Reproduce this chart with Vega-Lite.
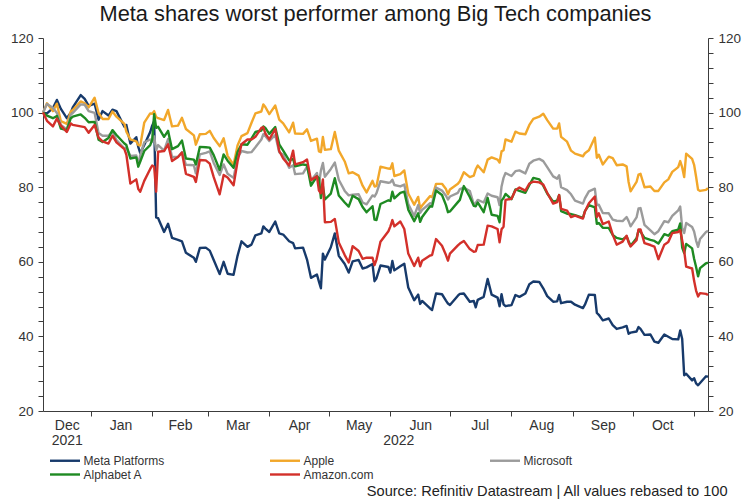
{
  "$schema": "https://vega.github.io/schema/vega-lite/v6.json",
  "description": "Meta vs Big Tech, rebased to 100",
  "width": 665,
  "height": 373,
  "autosize": {"type": "none"},
  "padding": {"left": 43, "top": 38, "right": 42, "bottom": 89},
  "background": "white",
  "config": {
    "font": "Liberation Sans",
    "view": {"stroke": null},
    "axis": {
      "grid": false,
      "domainColor": "#3c3c3c",
      "tickColor": "#3c3c3c",
      "labelColor": "#333333",
      "labelFontSize": 13.5,
      "labelFont": "Liberation Sans",
      "titleFont": "Liberation Sans"
    }
  },
  "title": {
    "text": "Meta shares worst performer among Big Tech companies",
    "fontSize": 21.8,
    "fontWeight": "normal",
    "color": "#1a1a1a",
    "anchor": "middle",
    "offset": 5
  },
  "data": {
    "values": [
      {"date": "2021-12-08", "Meta Platforms": 100, "Apple": 100, "Microsoft": 100, "Alphabet A": 100, "Amazon.com": 100},
      {"date": "2021-12-10", "Meta Platforms": 99.8, "Apple": 102.5, "Microsoft": 102.3, "Alphabet A": 99.2, "Amazon.com": 97.8},
      {"date": "2021-12-13", "Meta Platforms": 101.2, "Apple": 100.4, "Microsoft": 101.3, "Alphabet A": 98.5, "Amazon.com": 96.3},
      {"date": "2021-12-15", "Meta Platforms": 103.4, "Apple": 102.4, "Microsoft": 99.9, "Alphabet A": 99.1, "Amazon.com": 98.4},
      {"date": "2021-12-17", "Meta Platforms": 101.0, "Apple": 97.7, "Microsoft": 96.7, "Alphabet A": 95.7, "Amazon.com": 96.5},
      {"date": "2021-12-20", "Meta Platforms": 98.5, "Apple": 97.0, "Microsoft": 95.5, "Alphabet A": 95.3, "Amazon.com": 94.8},
      {"date": "2021-12-22", "Meta Platforms": 100.0, "Apple": 100.3, "Microsoft": 99.5, "Alphabet A": 98.5, "Amazon.com": 97.1},
      {"date": "2021-12-23", "Meta Platforms": 101.4, "Apple": 100.7, "Microsoft": 99.9, "Alphabet A": 98.9, "Amazon.com": 96.7},
      {"date": "2021-12-27", "Meta Platforms": 104.7, "Apple": 103.0, "Microsoft": 102.2, "Alphabet A": 99.5, "Amazon.com": 96.3},
      {"date": "2021-12-29", "Meta Platforms": 103.7, "Apple": 102.5, "Microsoft": 102.1, "Alphabet A": 98.6, "Amazon.com": 96.1},
      {"date": "2021-12-31", "Meta Platforms": 101.8, "Apple": 101.4, "Microsoft": 100.4, "Alphabet A": 97.4, "Amazon.com": 94.6},
      {"date": "2022-01-03", "Meta Platforms": 102.4, "Apple": 104.0, "Microsoft": 99.9, "Alphabet A": 97.5, "Amazon.com": 96.7},
      {"date": "2022-01-05", "Meta Platforms": 98.1, "Apple": 99.9, "Microsoft": 94.5, "Alphabet A": 92.7, "Amazon.com": 93.3},
      {"date": "2022-01-07", "Meta Platforms": 100.4, "Apple": 98.3, "Microsoft": 93.8, "Alphabet A": 92.1, "Amazon.com": 92.3},
      {"date": "2022-01-10", "Meta Platforms": 99.2, "Apple": 98.3, "Microsoft": 93.8, "Alphabet A": 93.2, "Amazon.com": 91.7},
      {"date": "2022-01-12", "Meta Platforms": 100.8, "Apple": 100.3, "Microsoft": 95.0, "Alphabet A": 95.3, "Amazon.com": 93.8},
      {"date": "2022-01-14", "Meta Platforms": 100.4, "Apple": 98.9, "Microsoft": 92.6, "Alphabet A": 94.0, "Amazon.com": 92.0},
      {"date": "2022-01-18", "Meta Platforms": 96.2, "Apple": 97.0, "Microsoft": 90.4, "Alphabet A": 91.7, "Amazon.com": 90.2},
      {"date": "2022-01-19", "Meta Platforms": 96.7, "Apple": 94.9, "Microsoft": 90.6, "Alphabet A": 91.3, "Amazon.com": 88.7},
      {"date": "2022-01-21", "Meta Platforms": 91.7, "Apple": 92.8, "Microsoft": 88.4, "Alphabet A": 87.7, "Amazon.com": 81.0},
      {"date": "2022-01-24", "Meta Platforms": 93.4, "Apple": 92.3, "Microsoft": 88.5, "Alphabet A": 88.0, "Amazon.com": 82.1},
      {"date": "2022-01-25", "Meta Platforms": 90.8, "Apple": 91.3, "Microsoft": 86.1, "Alphabet A": 85.5, "Amazon.com": 79.5},
      {"date": "2022-01-26", "Meta Platforms": 89.1, "Apple": 91.2, "Microsoft": 88.6, "Alphabet A": 86.9, "Amazon.com": 78.8},
      {"date": "2022-01-28", "Meta Platforms": 91.3, "Apple": 97.3, "Microsoft": 92.0, "Alphabet A": 89.7, "Amazon.com": 81.7},
      {"date": "2022-01-31", "Meta Platforms": 94.8, "Apple": 99.8, "Microsoft": 92.8, "Alphabet A": 91.3, "Amazon.com": 84.9},
      {"date": "2022-02-01", "Meta Platforms": 96.5, "Apple": 99.7, "Microsoft": 92.2, "Alphabet A": 92.7, "Amazon.com": 85.8},
      {"date": "2022-02-02", "Meta Platforms": 97.7, "Apple": 100.4, "Microsoft": 93.6, "Alphabet A": 99.6, "Amazon.com": 85.5},
      {"date": "2022-02-03", "Meta Platforms": 71.9, "Apple": 98.8, "Microsoft": 89.9, "Alphabet A": 95.9, "Amazon.com": 78.8},
      {"date": "2022-02-04", "Meta Platforms": 71.7, "Apple": 98.5, "Microsoft": 91.3, "Alphabet A": 96.2, "Amazon.com": 89.5},
      {"date": "2022-02-07", "Meta Platforms": 68.0, "Apple": 98.0, "Microsoft": 89.8, "Alphabet A": 93.5, "Amazon.com": 89.7},
      {"date": "2022-02-09", "Meta Platforms": 70.2, "Apple": 100.7, "Microsoft": 92.9, "Alphabet A": 95.1, "Amazon.com": 91.5},
      {"date": "2022-02-11", "Meta Platforms": 66.4, "Apple": 96.3, "Microsoft": 88.1, "Alphabet A": 90.2, "Amazon.com": 87.0},
      {"date": "2022-02-14", "Meta Platforms": 65.9, "Apple": 96.5, "Microsoft": 88.1, "Alphabet A": 91.0, "Amazon.com": 88.1},
      {"date": "2022-02-16", "Meta Platforms": 65.5, "Apple": 98.6, "Microsoft": 89.4, "Alphabet A": 92.5, "Amazon.com": 89.3},
      {"date": "2022-02-18", "Meta Platforms": 62.4, "Apple": 95.6, "Microsoft": 86.0, "Alphabet A": 87.7, "Amazon.com": 83.6},
      {"date": "2022-02-22", "Meta Platforms": 61.1, "Apple": 93.9, "Microsoft": 85.9, "Alphabet A": 87.4, "Amazon.com": 82.8},
      {"date": "2022-02-23", "Meta Platforms": 60.0, "Apple": 91.4, "Microsoft": 83.7, "Alphabet A": 86.1, "Amazon.com": 81.4},
      {"date": "2022-02-25", "Meta Platforms": 63.7, "Apple": 94.2, "Microsoft": 88.8, "Alphabet A": 90.8, "Amazon.com": 87.3},
      {"date": "2022-02-28", "Meta Platforms": 63.8, "Apple": 94.3, "Microsoft": 89.2, "Alphabet A": 90.7, "Amazon.com": 87.2},
      {"date": "2022-03-02", "Meta Platforms": 63.0, "Apple": 95.1, "Microsoft": 89.6, "Alphabet A": 90.6, "Amazon.com": 86.3},
      {"date": "2022-03-04", "Meta Platforms": 60.5, "Apple": 93.2, "Microsoft": 86.5, "Alphabet A": 88.6, "Amazon.com": 82.7},
      {"date": "2022-03-07", "Meta Platforms": 56.7, "Apple": 91.0, "Microsoft": 83.3, "Alphabet A": 84.6, "Amazon.com": 78.1},
      {"date": "2022-03-09", "Meta Platforms": 60.0, "Apple": 93.1, "Microsoft": 86.1, "Alphabet A": 88.8, "Amazon.com": 83.3},
      {"date": "2022-03-11", "Meta Platforms": 56.8, "Apple": 88.4, "Microsoft": 83.6, "Alphabet A": 87.1, "Amazon.com": 82.6},
      {"date": "2022-03-14", "Meta Platforms": 56.5, "Apple": 86.0, "Microsoft": 82.5, "Alphabet A": 85.2, "Amazon.com": 80.5},
      {"date": "2022-03-16", "Meta Platforms": 61.6, "Apple": 91.2, "Microsoft": 87.9, "Alphabet A": 89.4, "Amazon.com": 86.9},
      {"date": "2022-03-18", "Meta Platforms": 65.5, "Apple": 93.7, "Microsoft": 89.7, "Alphabet A": 91.5, "Amazon.com": 91.5},
      {"date": "2022-03-21", "Meta Platforms": 64.0, "Apple": 94.5, "Microsoft": 89.3, "Alphabet A": 91.4, "Amazon.com": 92.8},
      {"date": "2022-03-23", "Meta Platforms": 64.6, "Apple": 97.2, "Microsoft": 89.4, "Alphabet A": 93.0, "Amazon.com": 92.8},
      {"date": "2022-03-25", "Meta Platforms": 67.1, "Apple": 99.8, "Microsoft": 90.7, "Alphabet A": 94.8, "Amazon.com": 93.5},
      {"date": "2022-03-28", "Meta Platforms": 67.6, "Apple": 100.3, "Microsoft": 92.8, "Alphabet A": 95.2, "Amazon.com": 95.9},
      {"date": "2022-03-29", "Meta Platforms": 69.5, "Apple": 102.2, "Microsoft": 94.2, "Alphabet A": 96.3, "Amazon.com": 96.1},
      {"date": "2022-03-30", "Meta Platforms": 68.9, "Apple": 101.5, "Microsoft": 93.7, "Alphabet A": 95.9, "Amazon.com": 94.4},
      {"date": "2022-04-01", "Meta Platforms": 68.0, "Apple": 99.6, "Microsoft": 92.4, "Alphabet A": 94.3, "Amazon.com": 92.8},
      {"date": "2022-04-04", "Meta Platforms": 70.8, "Apple": 101.9, "Microsoft": 94.0, "Alphabet A": 96.1, "Amazon.com": 95.6},
      {"date": "2022-04-06", "Meta Platforms": 67.6, "Apple": 98.1, "Microsoft": 89.4, "Alphabet A": 91.5, "Amazon.com": 89.7},
      {"date": "2022-04-08", "Meta Platforms": 67.3, "Apple": 97.1, "Microsoft": 88.7, "Alphabet A": 89.8, "Amazon.com": 87.7},
      {"date": "2022-04-11", "Meta Platforms": 65.5, "Apple": 94.7, "Microsoft": 85.2, "Alphabet A": 87.2, "Amazon.com": 85.8},
      {"date": "2022-04-13", "Meta Platforms": 65.0, "Apple": 97.3, "Microsoft": 85.9, "Alphabet A": 87.6, "Amazon.com": 89.8},
      {"date": "2022-04-14", "Meta Platforms": 63.6, "Apple": 94.4, "Microsoft": 83.5, "Alphabet A": 85.6, "Amazon.com": 86.1},
      {"date": "2022-04-18", "Meta Platforms": 63.8, "Apple": 94.3, "Microsoft": 83.7, "Alphabet A": 86.1, "Amazon.com": 86.7},
      {"date": "2022-04-20", "Meta Platforms": 60.6, "Apple": 95.5, "Microsoft": 85.5, "Alphabet A": 85.9, "Amazon.com": 87.4},
      {"date": "2022-04-22", "Meta Platforms": 55.7, "Apple": 92.4, "Microsoft": 81.8, "Alphabet A": 80.4, "Amazon.com": 81.9},
      {"date": "2022-04-25", "Meta Platforms": 56.6, "Apple": 93.0, "Microsoft": 83.8, "Alphabet A": 82.9, "Amazon.com": 82.9},
      {"date": "2022-04-26", "Meta Platforms": 54.7, "Apple": 89.6, "Microsoft": 80.7, "Alphabet A": 82.4, "Amazon.com": 79.1},
      {"date": "2022-04-27", "Meta Platforms": 52.9, "Apple": 89.4, "Microsoft": 84.5, "Alphabet A": 77.1, "Amazon.com": 78.4},
      {"date": "2022-04-28", "Meta Platforms": 62.2, "Apple": 93.5, "Microsoft": 86.5, "Alphabet A": 80.3, "Amazon.com": 82.1},
      {"date": "2022-04-29", "Meta Platforms": 60.6, "Apple": 90.0, "Microsoft": 82.8, "Alphabet A": 76.7, "Amazon.com": 70.6},
      {"date": "2022-05-02", "Meta Platforms": 63.9, "Apple": 90.2, "Microsoft": 84.9, "Alphabet A": 78.3, "Amazon.com": 70.7},
      {"date": "2022-05-04", "Meta Platforms": 67.6, "Apple": 94.8, "Microsoft": 86.6, "Alphabet A": 82.4, "Amazon.com": 71.5},
      {"date": "2022-05-06", "Meta Platforms": 61.6, "Apple": 89.8, "Microsoft": 82.0, "Alphabet A": 77.8, "Amazon.com": 65.2},
      {"date": "2022-05-09", "Meta Platforms": 59.4, "Apple": 86.9, "Microsoft": 79.0, "Alphabet A": 75.9, "Amazon.com": 61.8},
      {"date": "2022-05-11", "Meta Platforms": 57.1, "Apple": 83.7, "Microsoft": 77.8, "Alphabet A": 74.8, "Amazon.com": 59.8},
      {"date": "2022-05-13", "Meta Platforms": 60.1, "Apple": 84.0, "Microsoft": 78.0, "Alphabet A": 77.7, "Amazon.com": 64.2},
      {"date": "2022-05-16", "Meta Platforms": 60.5, "Apple": 83.1, "Microsoft": 78.1, "Alphabet A": 76.8, "Amazon.com": 62.9},
      {"date": "2022-05-18", "Meta Platforms": 58.2, "Apple": 80.4, "Microsoft": 75.9, "Alphabet A": 74.7, "Amazon.com": 60.8},
      {"date": "2022-05-20", "Meta Platforms": 58.5, "Apple": 78.6, "Microsoft": 75.4, "Alphabet A": 73.3, "Amazon.com": 61.1},
      {"date": "2022-05-23", "Meta Platforms": 59.4, "Apple": 81.7, "Microsoft": 77.8, "Alphabet A": 74.9, "Amazon.com": 61.1},
      {"date": "2022-05-24", "Meta Platforms": 54.8, "Apple": 80.2, "Microsoft": 77.5, "Alphabet A": 71.3, "Amazon.com": 59.1},
      {"date": "2022-05-25", "Meta Platforms": 55.6, "Apple": 80.3, "Microsoft": 78.4, "Alphabet A": 71.2, "Amazon.com": 60.6},
      {"date": "2022-05-27", "Meta Platforms": 59.0, "Apple": 85.5, "Microsoft": 81.6, "Alphabet A": 75.5, "Amazon.com": 65.4},
      {"date": "2022-05-31", "Meta Platforms": 58.6, "Apple": 85.0, "Microsoft": 81.2, "Alphabet A": 76.5, "Amazon.com": 68.2},
      {"date": "2022-06-01", "Meta Platforms": 57.1, "Apple": 84.9, "Microsoft": 81.3, "Alphabet A": 76.3, "Amazon.com": 69.5},
      {"date": "2022-06-02", "Meta Platforms": 60.2, "Apple": 86.4, "Microsoft": 82.0, "Alphabet A": 78.8, "Amazon.com": 71.2},
      {"date": "2022-06-03", "Meta Platforms": 57.7, "Apple": 83.0, "Microsoft": 80.6, "Alphabet A": 77.0, "Amazon.com": 69.5},
      {"date": "2022-06-06", "Meta Platforms": 58.8, "Apple": 83.5, "Microsoft": 80.2, "Alphabet A": 78.5, "Amazon.com": 70.8},
      {"date": "2022-06-08", "Meta Platforms": 59.5, "Apple": 84.5, "Microsoft": 80.7, "Alphabet A": 78.8, "Amazon.com": 68.8},
      {"date": "2022-06-10", "Meta Platforms": 53.1, "Apple": 78.3, "Microsoft": 75.5, "Alphabet A": 74.0, "Amazon.com": 62.2},
      {"date": "2022-06-13", "Meta Platforms": 49.7, "Apple": 75.3, "Microsoft": 72.3, "Alphabet A": 70.9, "Amazon.com": 58.9},
      {"date": "2022-06-15", "Meta Platforms": 51.2, "Apple": 77.4, "Microsoft": 75.2, "Alphabet A": 73.0, "Amazon.com": 61.1},
      {"date": "2022-06-16", "Meta Platforms": 48.7, "Apple": 74.3, "Microsoft": 73.1, "Alphabet A": 70.7, "Amazon.com": 58.8},
      {"date": "2022-06-17", "Meta Platforms": 49.5, "Apple": 75.1, "Microsoft": 73.9, "Alphabet A": 72.0, "Amazon.com": 60.3},
      {"date": "2022-06-21", "Meta Platforms": 47.5, "Apple": 77.6, "Microsoft": 75.7, "Alphabet A": 74.9, "Amazon.com": 61.7},
      {"date": "2022-06-22", "Meta Platforms": 47.1, "Apple": 77.3, "Microsoft": 75.6, "Alphabet A": 74.8, "Amazon.com": 61.8},
      {"date": "2022-06-24", "Meta Platforms": 51.5, "Apple": 80.9, "Microsoft": 79.9, "Alphabet A": 79.1, "Amazon.com": 66.1},
      {"date": "2022-06-27", "Meta Platforms": 51.3, "Apple": 80.9, "Microsoft": 79.1, "Alphabet A": 77.9, "Amazon.com": 64.3},
      {"date": "2022-06-29", "Meta Platforms": 49.6, "Apple": 79.5, "Microsoft": 77.7, "Alphabet A": 75.2, "Amazon.com": 61.8},
      {"date": "2022-06-30", "Meta Platforms": 48.8, "Apple": 78.1, "Microsoft": 76.7, "Alphabet A": 73.3, "Amazon.com": 60.3},
      {"date": "2022-07-01", "Meta Platforms": 48.4, "Apple": 79.4, "Microsoft": 77.5, "Alphabet A": 73.5, "Amazon.com": 62.2},
      {"date": "2022-07-05", "Meta Platforms": 50.9, "Apple": 80.9, "Microsoft": 78.5, "Alphabet A": 76.0, "Amazon.com": 64.4},
      {"date": "2022-07-06", "Meta Platforms": 51.4, "Apple": 81.6, "Microsoft": 79.5, "Alphabet A": 76.6, "Amazon.com": 64.9},
      {"date": "2022-07-08", "Meta Platforms": 51.5, "Apple": 84.0, "Microsoft": 79.9, "Alphabet A": 80.3, "Amazon.com": 65.6},
      {"date": "2022-07-11", "Meta Platforms": 49.3, "Apple": 82.7, "Microsoft": 79.0, "Alphabet A": 77.4, "Amazon.com": 63.4},
      {"date": "2022-07-13", "Meta Platforms": 49.5, "Apple": 83.1, "Microsoft": 75.4, "Alphabet A": 75.0, "Amazon.com": 62.7},
      {"date": "2022-07-14", "Meta Platforms": 47.8, "Apple": 84.8, "Microsoft": 75.8, "Alphabet A": 74.9, "Amazon.com": 62.8},
      {"date": "2022-07-15", "Meta Platforms": 49.8, "Apple": 85.8, "Microsoft": 76.6, "Alphabet A": 75.9, "Amazon.com": 64.5},
      {"date": "2022-07-18", "Meta Platforms": 50.6, "Apple": 84.0, "Microsoft": 75.9, "Alphabet A": 73.3, "Amazon.com": 64.6},
      {"date": "2022-07-20", "Meta Platforms": 55.4, "Apple": 87.4, "Microsoft": 78.3, "Alphabet A": 77.1, "Amazon.com": 69.7},
      {"date": "2022-07-22", "Meta Platforms": 51.2, "Apple": 88.0, "Microsoft": 77.7, "Alphabet A": 72.6, "Amazon.com": 69.5},
      {"date": "2022-07-25", "Meta Platforms": 50.4, "Apple": 87.4, "Microsoft": 77.3, "Alphabet A": 72.3, "Amazon.com": 68.8},
      {"date": "2022-07-26", "Meta Platforms": 48.1, "Apple": 86.6, "Microsoft": 75.2, "Alphabet A": 70.6, "Amazon.com": 65.2},
      {"date": "2022-07-27", "Meta Platforms": 51.3, "Apple": 89.6, "Microsoft": 80.2, "Alphabet A": 76.4, "Amazon.com": 68.7},
      {"date": "2022-07-28", "Meta Platforms": 48.6, "Apple": 89.9, "Microsoft": 82.5, "Alphabet A": 77.1, "Amazon.com": 69.4},
      {"date": "2022-07-29", "Meta Platforms": 48.1, "Apple": 92.8, "Microsoft": 83.8, "Alphabet A": 78.2, "Amazon.com": 76.6},
      {"date": "2022-08-01", "Meta Platforms": 48.4, "Apple": 92.2, "Microsoft": 83.0, "Alphabet A": 76.8, "Amazon.com": 76.9},
      {"date": "2022-08-03", "Meta Platforms": 51.1, "Apple": 94.9, "Microsoft": 84.3, "Alphabet A": 79.4, "Amazon.com": 79.2},
      {"date": "2022-08-05", "Meta Platforms": 50.6, "Apple": 94.4, "Microsoft": 84.5, "Alphabet A": 79.0, "Amazon.com": 79.9},
      {"date": "2022-08-08", "Meta Platforms": 51.5, "Apple": 94.2, "Microsoft": 83.7, "Alphabet A": 78.5, "Amazon.com": 79.1},
      {"date": "2022-08-10", "Meta Platforms": 54.0, "Apple": 96.7, "Microsoft": 86.3, "Alphabet A": 80.6, "Amazon.com": 81.0},
      {"date": "2022-08-12", "Meta Platforms": 54.7, "Apple": 98.3, "Microsoft": 87.1, "Alphabet A": 82.5, "Amazon.com": 81.5},
      {"date": "2022-08-15", "Meta Platforms": 54.6, "Apple": 98.9, "Microsoft": 87.6, "Alphabet A": 82.1, "Amazon.com": 81.3},
      {"date": "2022-08-17", "Meta Platforms": 52.9, "Apple": 99.7, "Microsoft": 87.0, "Alphabet A": 80.4, "Amazon.com": 80.7},
      {"date": "2022-08-19", "Meta Platforms": 50.8, "Apple": 98.0, "Microsoft": 85.4, "Alphabet A": 78.3, "Amazon.com": 78.5},
      {"date": "2022-08-22", "Meta Platforms": 49.3, "Apple": 95.7, "Microsoft": 82.9, "Alphabet A": 76.1, "Amazon.com": 75.6},
      {"date": "2022-08-24", "Meta Platforms": 49.4, "Apple": 95.7, "Microsoft": 82.3, "Alphabet A": 76.4, "Amazon.com": 76.0},
      {"date": "2022-08-25", "Meta Platforms": 51.1, "Apple": 97.1, "Microsoft": 83.2, "Alphabet A": 77.9, "Amazon.com": 77.9},
      {"date": "2022-08-26", "Meta Platforms": 48.9, "Apple": 93.5, "Microsoft": 80.0, "Alphabet A": 73.6, "Amazon.com": 74.2},
      {"date": "2022-08-29", "Meta Platforms": 49.3, "Apple": 92.2, "Microsoft": 79.2, "Alphabet A": 72.9, "Amazon.com": 73.7},
      {"date": "2022-08-31", "Meta Platforms": 49.3, "Apple": 89.8, "Microsoft": 78.1, "Alphabet A": 72.8, "Amazon.com": 72.0},
      {"date": "2022-09-02", "Meta Platforms": 48.5, "Apple": 89.0, "Microsoft": 76.4, "Alphabet A": 72.5, "Amazon.com": 72.4},
      {"date": "2022-09-06", "Meta Platforms": 47.6, "Apple": 88.3, "Microsoft": 75.6, "Alphabet A": 71.8, "Amazon.com": 71.6},
      {"date": "2022-09-07", "Meta Platforms": 48.5, "Apple": 89.1, "Microsoft": 77.0, "Alphabet A": 73.6, "Amazon.com": 73.5},
      {"date": "2022-09-09", "Meta Platforms": 51.2, "Apple": 89.9, "Microsoft": 78.9, "Alphabet A": 75.2, "Amazon.com": 75.7},
      {"date": "2022-09-12", "Meta Platforms": 51.1, "Apple": 93.3, "Microsoft": 79.6, "Alphabet A": 74.6, "Amazon.com": 77.5},
      {"date": "2022-09-13", "Meta Platforms": 46.3, "Apple": 87.9, "Microsoft": 75.2, "Alphabet A": 70.2, "Amazon.com": 72.0},
      {"date": "2022-09-14", "Meta Platforms": 45.8, "Apple": 88.7, "Microsoft": 75.3, "Alphabet A": 70.4, "Amazon.com": 73.0},
      {"date": "2022-09-16", "Meta Platforms": 44.3, "Apple": 86.1, "Microsoft": 73.1, "Alphabet A": 69.1, "Amazon.com": 70.1},
      {"date": "2022-09-19", "Meta Platforms": 44.8, "Apple": 88.2, "Microsoft": 73.0, "Alphabet A": 69.1, "Amazon.com": 70.8},
      {"date": "2022-09-21", "Meta Platforms": 43.0, "Apple": 87.8, "Microsoft": 71.3, "Alphabet A": 67.2, "Amazon.com": 67.3},
      {"date": "2022-09-23", "Meta Platforms": 42.0, "Apple": 85.9, "Microsoft": 71.0, "Alphabet A": 66.4, "Amazon.com": 64.6},
      {"date": "2022-09-26", "Meta Platforms": 42.4, "Apple": 86.1, "Microsoft": 70.9, "Alphabet A": 66.0, "Amazon.com": 65.4},
      {"date": "2022-09-28", "Meta Platforms": 42.8, "Apple": 85.6, "Microsoft": 72.0, "Alphabet A": 66.8, "Amazon.com": 67.0},
      {"date": "2022-09-29", "Meta Platforms": 40.7, "Apple": 81.4, "Microsoft": 70.9, "Alphabet A": 65.5, "Amazon.com": 65.2},
      {"date": "2022-09-30", "Meta Platforms": 41.0, "Apple": 78.9, "Microsoft": 69.5, "Alphabet A": 64.3, "Amazon.com": 64.1},
      {"date": "2022-10-03", "Meta Platforms": 41.3, "Apple": 81.4, "Microsoft": 71.9, "Alphabet A": 66.3, "Amazon.com": 65.8},
      {"date": "2022-10-04", "Meta Platforms": 42.5, "Apple": 83.4, "Microsoft": 74.3, "Alphabet A": 68.4, "Amazon.com": 68.7},
      {"date": "2022-10-05", "Meta Platforms": 42.0, "Apple": 83.6, "Microsoft": 74.4, "Alphabet A": 68.1, "Amazon.com": 68.7},
      {"date": "2022-10-07", "Meta Platforms": 40.4, "Apple": 80.0, "Microsoft": 69.9, "Alphabet A": 66.4, "Amazon.com": 65.0},
      {"date": "2022-10-10", "Meta Platforms": 40.5, "Apple": 80.2, "Microsoft": 68.4, "Alphabet A": 65.9, "Amazon.com": 64.5},
      {"date": "2022-10-12", "Meta Platforms": 38.6, "Apple": 79.0, "Microsoft": 67.4, "Alphabet A": 65.6, "Amazon.com": 64.1},
      {"date": "2022-10-14", "Meta Platforms": 38.3, "Apple": 79.0, "Microsoft": 68.2, "Alphabet A": 64.9, "Amazon.com": 60.7},
      {"date": "2022-10-17", "Meta Platforms": 40.5, "Apple": 81.3, "Microsoft": 70.9, "Alphabet A": 67.4, "Amazon.com": 64.6},
      {"date": "2022-10-19", "Meta Platforms": 39.9, "Apple": 82.1, "Microsoft": 70.6, "Alphabet A": 67.0, "Amazon.com": 65.3},
      {"date": "2022-10-21", "Meta Platforms": 39.3, "Apple": 84.1, "Microsoft": 72.3, "Alphabet A": 68.2, "Amazon.com": 67.7},
      {"date": "2022-10-24", "Meta Platforms": 39.2, "Apple": 85.4, "Microsoft": 73.8, "Alphabet A": 68.6, "Amazon.com": 68.0},
      {"date": "2022-10-25", "Meta Platforms": 41.6, "Apple": 87.0, "Microsoft": 74.8, "Alphabet A": 70.3, "Amazon.com": 68.5},
      {"date": "2022-10-26", "Meta Platforms": 39.3, "Apple": 85.3, "Microsoft": 69.1, "Alphabet A": 63.8, "Amazon.com": 65.7},
      {"date": "2022-10-27", "Meta Platforms": 29.6, "Apple": 82.7, "Microsoft": 67.7, "Alphabet A": 62.3, "Amazon.com": 63.0},
      {"date": "2022-10-28", "Meta Platforms": 30.0, "Apple": 89.0, "Microsoft": 70.4, "Alphabet A": 64.8, "Amazon.com": 58.7},
      {"date": "2022-10-31", "Meta Platforms": 28.2, "Apple": 87.6, "Microsoft": 69.3, "Alphabet A": 63.6, "Amazon.com": 58.2},
      {"date": "2022-11-01", "Meta Platforms": 28.8, "Apple": 86.0, "Microsoft": 68.1, "Alphabet A": 60.8, "Amazon.com": 54.9},
      {"date": "2022-11-02", "Meta Platforms": 27.4, "Apple": 82.8, "Microsoft": 65.7, "Alphabet A": 58.6, "Amazon.com": 52.3},
      {"date": "2022-11-03", "Meta Platforms": 26.9, "Apple": 79.3, "Microsoft": 64.0, "Alphabet A": 56.1, "Amazon.com": 50.7},
      {"date": "2022-11-04", "Meta Platforms": 27.5, "Apple": 79.0, "Microsoft": 66.1, "Alphabet A": 58.3, "Amazon.com": 51.6},
      {"date": "2022-11-07", "Meta Platforms": 29.3, "Apple": 79.3, "Microsoft": 68.0, "Alphabet A": 59.6, "Amazon.com": 51.4},
      {"date": "2022-11-08", "Meta Platforms": 29.2, "Apple": 79.7, "Microsoft": 68.3, "Alphabet A": 59.8, "Amazon.com": 51.1}
    ]
  },
  "layer": [
    {
      "transform": [
        {"fold": ["Meta Platforms", "Apple", "Microsoft", "Alphabet A", "Amazon\\.com"], "as": ["company", "value"]}
      ],
      "mark": {"type": "line", "strokeJoin": "round"},
      "encoding": {
        "x": {
          "field": "date",
          "type": "temporal",
          "scale": {"type": "utc", "domain": [{"year": 2021, "month": 12, "date": 8, "utc": true}, {"year": 2022, "month": 11, "date": 8, "utc": true}]},
          "axis": {
            "orient": "bottom",
            "title": null,
            "labels": false,
            "tickSize": 5,
            "values": [
              {"year": 2022, "month": 1, "date": 1, "utc": true},
              {"year": 2022, "month": 2, "date": 1, "utc": true},
              {"year": 2022, "month": 3, "date": 1, "utc": true},
              {"year": 2022, "month": 4, "date": 1, "utc": true},
              {"year": 2022, "month": 5, "date": 1, "utc": true},
              {"year": 2022, "month": 6, "date": 1, "utc": true},
              {"year": 2022, "month": 7, "date": 1, "utc": true},
              {"year": 2022, "month": 8, "date": 1, "utc": true},
              {"year": 2022, "month": 9, "date": 1, "utc": true},
              {"year": 2022, "month": 10, "date": 1, "utc": true},
              {"year": 2022, "month": 11, "date": 1, "utc": true}
            ]
          }
        },
        "y": {
          "field": "value",
          "type": "quantitative",
          "scale": {"domain": [20, 120], "nice": false, "zero": false},
          "axis": {
            "orient": "left",
            "title": null,
            "values": [20, 24, 28, 32, 36, 40, 44, 48, 52, 56, 60, 64, 68, 72, 76, 80, 84, 88, 92, 96, 100, 104, 108, 112, 116, 120],
            "labelExpr": "datum.value % 20 === 0 ? datum.label : ''",
            "tickSize": 5,
            "labelPadding": 5
          }
        },
        "color": {
          "field": "company",
          "type": "nominal",
          "scale": {
            "domain": ["Meta Platforms", "Apple", "Microsoft", "Alphabet A", "Amazon.com"],
            "range": ["#173a6b", "#f2a72a", "#9b9b9b", "#1e8a22", "#d3302a"]
          },
          "legend": {
            "orient": "none",
            "legendX": 7,
            "legendY": 415,
            "direction": "horizontal",
            "columns": 3,
            "gridAlign": "all",
            "title": null,
            "symbolType": "M-2.5,0H2.5",
            "symbolSize": 144,
            "symbolStrokeWidth": 2.2,
            "symbolOffset": 7.5,
            "labelFontSize": 12,
            "labelColor": "#333333",
            "labelFont": "Liberation Sans",
            "columnPadding": 100,
            "rowPadding": -3,
            "labelOffset": 11
          }
        },
        "strokeWidth": {
          "field": "company",
          "type": "nominal",
          "scale": {
            "domain": ["Meta Platforms", "Apple", "Microsoft", "Alphabet A", "Amazon.com"],
            "range": [2.4, 2.4, 1.8, 1.8, 1.4]
          },
          "legend": null
        }
      }
    },
    {
      "data": {"values": [{}]},
      "mark": {"type": "rule", "opacity": 0},
      "encoding": {
        "y": {
          "datum": 60,
          "type": "quantitative",
          "scale": {"domain": [20, 120], "nice": false, "zero": false},
          "axis": {
            "orient": "right",
            "title": null,
            "values": [20, 24, 28, 32, 36, 40, 44, 48, 52, 56, 60, 64, 68, 72, 76, 80, 84, 88, 92, 96, 100, 104, 108, 112, 116, 120],
            "labelExpr": "datum.value % 20 === 0 ? datum.label : ''",
            "tickSize": 5,
            "labelPadding": 5
          }
        }
      }
    },
    {
      "data": {"values": [{}]},
      "mark": {"type": "rule", "opacity": 0},
      "encoding": {
        "x": {
          "datum": {"year": 2022, "month": 6, "date": 1, "utc": true},
          "type": "temporal",
          "scale": {"type": "utc", "domain": [{"year": 2021, "month": 12, "date": 8, "utc": true}, {"year": 2022, "month": 11, "date": 8, "utc": true}]},
          "axis": {
            "orient": "bottom",
            "title": null,
            "domain": false,
            "ticks": false,
            "labelPadding": 7,
            "labelFontSize": 14,
            "labelFlush": false,
            "labelOverlap": false,
            "format": "%b",
            "values": [
              {"year": 2021, "month": 12, "date": 20, "utc": true},
              {"year": 2022, "month": 1, "date": 16, "utc": true},
              {"year": 2022, "month": 2, "date": 15, "utc": true},
              {"year": 2022, "month": 3, "date": 16, "utc": true},
              {"year": 2022, "month": 4, "date": 16, "utc": true},
              {"year": 2022, "month": 5, "date": 16, "utc": true},
              {"year": 2022, "month": 6, "date": 16, "utc": true},
              {"year": 2022, "month": 7, "date": 16, "utc": true},
              {"year": 2022, "month": 8, "date": 16, "utc": true},
              {"year": 2022, "month": 9, "date": 16, "utc": true},
              {"year": 2022, "month": 10, "date": 16, "utc": true}
            ]
          }
        }
      }
    },
    {
      "data": {"values": [{}]},
      "mark": {"type": "rule", "opacity": 0},
      "encoding": {
        "x": {
          "datum": {"year": 2022, "month": 6, "date": 1, "utc": true},
          "type": "temporal",
          "scale": {"type": "utc", "domain": [{"year": 2021, "month": 12, "date": 8, "utc": true}, {"year": 2022, "month": 11, "date": 8, "utc": true}]},
          "axis": {
            "orient": "bottom",
            "domain": false,
            "ticks": false,
            "labelPadding": 22,
            "labelFontSize": 14,
            "labelFlush": false,
            "labelOverlap": false,
            "format": "%Y",
            "values": [
              {"year": 2021, "month": 12, "date": 20, "utc": true},
              {"year": 2022, "month": 6, "date": 5, "utc": true}
            ],
            "title": "Source: Refinitiv Datastream | All values rebased to 100",
            "titleFontSize": 14.6,
            "titleFontWeight": "normal",
            "titleColor": "#222222",
            "titleAlign": "right",
            "titleBaseline": "alphabetic",
            "titleX": 684,
            "titleY": 84
          }
        }
      }
    }
  ],
  "resolve": {"axis": {"x": "independent", "y": "independent"}}
}
